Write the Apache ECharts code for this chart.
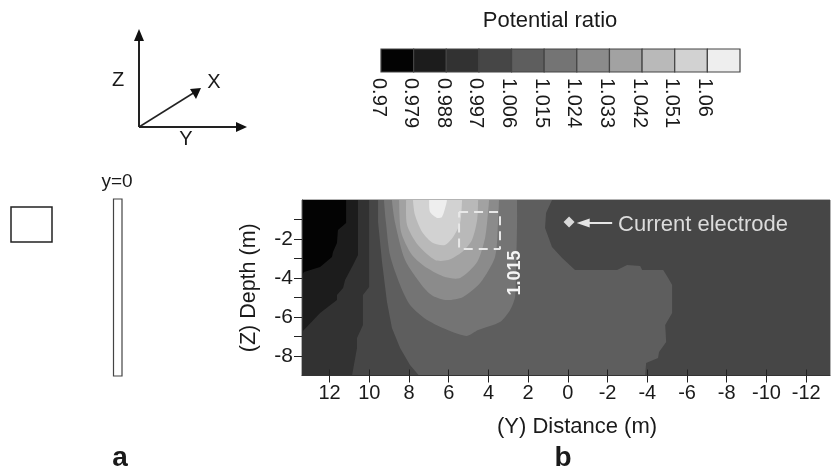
<!DOCTYPE html>
<html><head><meta charset="utf-8">
<style>html,body{margin:0;padding:0;background:#fff}#c{width:831px;height:474px}</style>
<script src="https://cdn.jsdelivr.net/npm/echarts@6/dist/echarts.min.js"></script>
</head><body><div id="c"></div>
<script>
const legendLabels = ['0.97','0.979','0.988','0.997','1.006','1.015','1.024','1.033','1.042','1.051','1.06'];
const levelColors = ['#030303','#1c1c1c','#323232','#464646','#5e5e5e','#747474','#8b8b8b','#a2a2a2','#b9b9b9','#d2d2d2','#eeeeee'];
const xTicks = [12,10,8,6,4,2,0,-2,-4,-6,-8,-10,-12];
const yMinorTicks = [-1,-2,-3,-4,-5,-6,-7,-8];
const yLabels = [-2,-4,-6,-8];
// Contour bands in data coordinates [distance m, depth m]
const band0997 = [[13.39,0],[-13.2,0],[-13.2,-9],[13.39,-9]];
const band1006 = [[9.56,0],[9.56,-1.13],[9.36,-3.18],[9.11,-5.23],[8.86,-6.56],[8.45,-7.59],[7.95,-8.46],[7.5,-9],[-3.89,-9],[-3.94,-8.36],[-4.54,-8.1],[-4.59,-7.79],[-4.95,-7.28],[-4.9,-6.41],[-5.25,-5.79],[-5.25,-4.36],[-5.05,-4],[-4.8,-3.59],[-3.74,-3.59],[-3.64,-3.38],[-2.98,-3.33],[-2.48,-3.59],[-1.12,-3.59],[-0.36,-3.59],[0.29,-2.97],[0.8,-2.41],[1.15,-1.44],[1.1,-0.67],[0.8,0]];
const band1015 = [[9.26,1],[9.26,0],[9.16,-1.18],[8.96,-2.82],[8.45,-4.36],[7.95,-5.38],[7.09,-6.15],[5.93,-6.72],[5.08,-6.97],[4.52,-6.67],[3.42,-6.26],[2.91,-5.64],[2.66,-4.97],[2.61,-3.59],[2.56,-1.18],[2.56,0],[2.56,1]];
const band1024 = [[8.86,1],[8.86,0],[8.7,-1.18],[8.2,-3.08],[7.29,-4.46],[6.79,-4.92],[6.09,-5.13],[5.28,-4.97],[4.42,-4.26],[3.67,-2.92],[3.52,-1.18],[3.47,0],[3.47,1]];
const band1033 = [[8.5,1],[8.5,0],[8.4,-1.64],[7.85,-2.82],[7.09,-3.49],[6.19,-3.95],[5.43,-4],[4.57,-3.18],[4.17,-1.95],[4.02,-0.62],[3.97,0],[3.97,1]];
const band1042 = [[8.15,1],[8.15,0],[8.1,-1.28],[7.55,-2.31],[6.69,-3.08],[6.03,-3.08],[5.33,-2.67],[4.83,-2.05],[4.57,-1.03],[4.52,0],[4.52,1]];
const band1051 = [[7.8,1],[7.8,0],[7.7,-0.77],[7.34,-1.64],[6.79,-2.21],[6.19,-2.31],[5.78,-1.9],[5.43,-1.18],[5.33,0],[5.33,1]];
const band1060 = [[6.99,1],[6.99,0],[6.94,-0.62],[6.59,-0.92],[6.34,-0.87],[6.14,-0.26],[6.09,0],[6.09,1]];
const band0988 = [[13.39,0],[10.01,0],[10.01,-4.46],[10.32,-4.87],[10.32,-6.41],[10.62,-7.08],[10.62,-7.59],[10.87,-9],[13.39,-9]];
const band0979 = [[13.39,0],[10.57,0],[10.57,-2.82],[10.82,-3.33],[11.22,-4.1],[11.32,-4.51],[11.63,-4.87],[11.63,-5.13],[12.48,-5.79],[13.39,-6.77]];
const band0970 = [[13.39,0],[11.17,0],[11.17,-1.18],[11.58,-1.54],[11.63,-2.21],[11.83,-2.67],[11.88,-2.92],[12.48,-3.44],[13.29,-3.69],[13.39,-3.85]];
const bands = [band0997,band1006,band1015,band1024,band1033,band1042,band1051,band1060,band0988,band0979,band0970];
const bandLevels = [3,4,5,6,7,8,9,10,2,1,0];
const bandSmooth = [0,0,0.25,0.25,0.25,0.25,0.25,0.25,0,0,0];
const deadZoneBox = [[5.48,-0.62],[3.42,-0.62],[3.42,-2.51],[5.48,-2.51],[5.48,-0.62]];
const electrode = [[-0.06,-1.13]];
const electrodeArrow = [[-2.23,-1.18],[-0.77,-1.18]];

const F = '"Liberation Sans", Arial, sans-serif';
const INK = '#1a1a1a';
const chart = echarts.init(document.getElementById('c'), null, {renderer:'canvas'});

function txt(x,y,t,size,extra){
  return Object.assign({type:'text',x:x,y:y,z:50,style:{text:t,font:(extra&&extra.weight||'normal')+' '+size+'px '+F,fill:(extra&&extra.fill)||INK,align:'center',verticalAlign:'middle'}},extra&&extra.el||{});
}
function ln(x1,y1,x2,y2,w,c){return {type:'line',z:50,shape:{x1,y1,x2,y2},style:{stroke:c||'#222',lineWidth:w}};}
function tri(pts){return {type:'polygon',z:50,shape:{points:pts},style:{fill:'#111'}};}

chart.setOption({
  animation:false,
  grid:[
    {left:302,top:200,width:528,height:175.5,show:true,borderColor:'#666',borderWidth:1,backgroundColor:'#444'},
    {left:374.47,top:49,width:365.53,height:23}
  ],
  xAxis:[
    {gridIndex:0,type:'value',inverse:true,min:-13.2,max:13.39,z:10,
     axisLine:{onZero:false,lineStyle:{color:'#333',width:1}},
     axisTick:{show:true,length:7,customValues:xTicks,lineStyle:{color:'#222',width:1}},
     axisLabel:{fontFamily:F,fontSize:20,color:INK,margin:8,customValues:xTicks},
     splitLine:{show:false},
     name:'(Y) Distance (m)',nameLocation:'middle',nameGap:40,
     nameTextStyle:{fontFamily:F,fontSize:22,color:INK,padding:[0,0,0,22]}},
    {gridIndex:0,type:'value',inverse:true,min:-13.2,max:13.39,position:'bottom',z:10,
     axisLine:{show:false,onZero:false},
     axisTick:{show:true,inside:true,length:6,customValues:xTicks,lineStyle:{color:'#222',width:1}},
     axisLabel:{show:false},splitLine:{show:false}},
    {gridIndex:1,type:'value',min:-0.2,max:11,
     axisLine:{show:false,onZero:false},axisTick:{show:false},splitLine:{show:false},
     axisLabel:{fontFamily:F,fontSize:20,color:INK,rotate:-90,margin:6,
       customValues:legendLabels.map((_,i)=>i-0.09),
       formatter:v=>legendLabels[Math.round(v)]}}
  ],
  yAxis:[
    {gridIndex:0,type:'value',min:-9,max:0,z:10,
     axisLine:{onZero:false,lineStyle:{color:'#333',width:1}},
     axisTick:{show:true,length:8,customValues:yMinorTicks,lineStyle:{color:'#222',width:1}},
     axisLabel:{fontFamily:F,fontSize:21,color:INK,margin:9,customValues:yLabels},
     splitLine:{show:false},
     name:'(Z) Depth (m)',nameLocation:'middle',nameGap:42,
     nameTextStyle:{fontFamily:F,fontSize:21.5,color:INK}},
    {gridIndex:1,type:'value',min:0,max:1,show:false}
  ],
  series:[
    {type:'custom',xAxisIndex:0,yAxisIndex:0,clip:true,z:2,silent:true,
     data:bandLevels.map((l,i)=>[i,l]),
     encode:{x:[],y:[]},
     renderItem:(p,api)=>{
       const i=api.value(0);
       return {type:'polygon',shape:{points:bands[i].map(c=>api.coord(c)),smooth:bandSmooth[i]},
         style:{fill:levelColors[api.value(1)]}};
     }},
    {type:'line',xAxisIndex:0,yAxisIndex:0,z:5,silent:true,symbol:'none',data:deadZoneBox,
     lineStyle:{color:'#e8e8e8',width:2,type:[9,6]}},
    {type:'scatter',xAxisIndex:0,yAxisIndex:0,z:6,silent:true,symbol:'diamond',symbolSize:11,data:electrode,
     itemStyle:{color:'#fff'},
     markLine:{silent:true,animation:false,symbol:['none','triangle'],symbolSize:[9,13],label:{show:false},
       lineStyle:{color:'#e6e6e6',width:2,type:'solid'},
       data:[[{coord:electrodeArrow[0]},{coord:electrodeArrow[1]}]]}},
    {type:'custom',xAxisIndex:2,yAxisIndex:1,z:3,silent:true,clip:false,
     data:legendLabels.map((_,i)=>[i]),
     renderItem:(p,api)=>{
       const i=api.value(0);
       const a=api.coord([i,1]),b=api.coord([i+1,0]);
       return {type:'rect',shape:{x:a[0],y:a[1],width:b[0]-a[0],height:b[1]-a[1]},
         style:{fill:levelColors[i],stroke:'#444',lineWidth:1.2}};
     }}
  ],
  graphic:{elements:[
    txt(550,21,'Potential ratio',22),
    ln(139,127,139,38,2), tri([[139,29],[134,41],[144,41]]),
    ln(139,127,238,127,2), tri([[247,127],[236,122],[236,132]]),
    ln(139,127,195,92,1.5), tri([[201,88],[190,89],[196,99]]),
    txt(118,80,'Z',20), txt(214,82,'X',20), txt(186,139,'Y',20),
    txt(117,182,'y=0',19),
    {type:'rect',z:50,shape:{x:11,y:207,width:41,height:35},style:{fill:'#fff',stroke:'#222',lineWidth:1.5}},
    {type:'rect',z:50,shape:{x:113.5,y:199,width:8.5,height:177},style:{fill:'#fff',stroke:'#444',lineWidth:1.2}},
    txt(120,458,'a',28,{weight:'bold'}),
    txt(563,458,'b',28,{weight:'bold'}),
    txt(703,225,'Current electrode',22,{fill:'#dcdcdc'}),
    txt(515,273,'1.015',18,{weight:'bold',fill:'#f4f4f4',el:{rotation:Math.PI/2}})
  ]}
});
</script></body></html>
